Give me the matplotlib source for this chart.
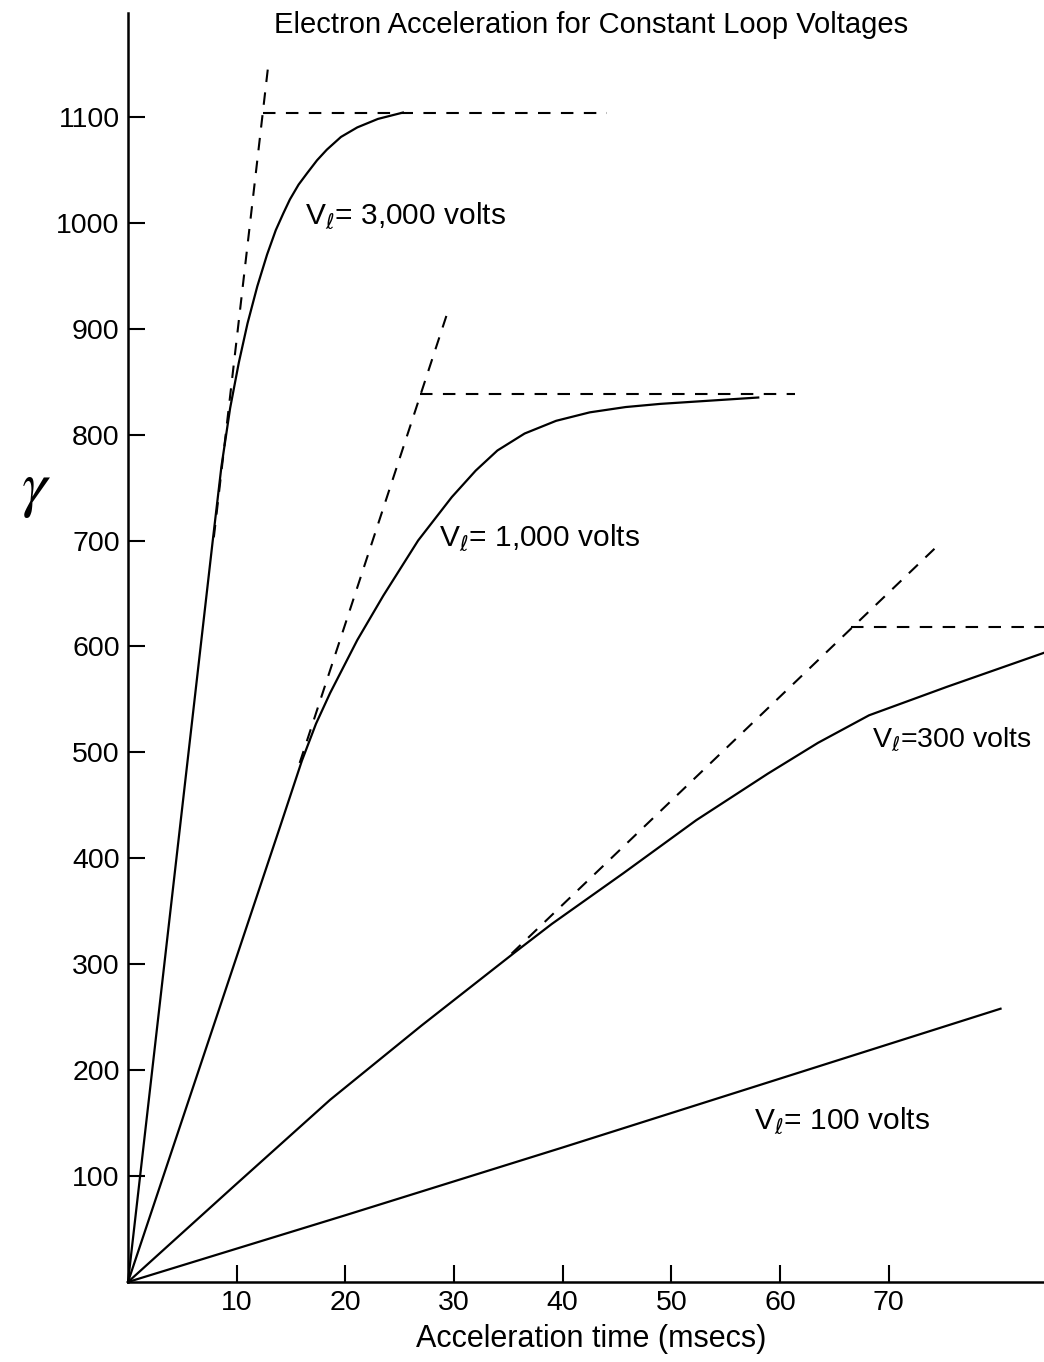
import matplotlib.pyplot as plt

plt.rcParams['font.family'] = ['Liberation Sans', 'DejaVu Sans']

# Vl = 3000 volts
t_3000 = [0, 7.8, 8.6, 9.4, 10.2, 11.0, 11.9, 12.8, 13.6, 14.3, 14.9, 15.7, 16.5,
          17.4, 18.3, 19.6, 21.1, 23.0, 25.3]
g_3000 = [0, 700, 770, 825, 868, 905, 940, 970, 993, 1009, 1022, 1036, 1047,
          1059, 1069, 1081, 1090, 1098, 1104]
tan_3000_t = [7.9, 12.9]
tan_3000_g = [703, 1148]
lim_3000_t = [12.4, 44.1]
lim_3000_g = [1104, 1104]

# Vl = 1000 volts
t_1000 = [0, 14, 16, 17.3, 18.6, 21.1, 23.5, 26.7, 29.8, 32, 34, 36.5, 39.4,
          42.5, 45.8, 49, 52, 55, 58]
g_1000 = [0, 430, 492, 527, 556, 606, 648, 700, 741, 766, 785, 801, 813,
          821, 826, 829, 831, 833, 835]
tan_1000_t = [15.8, 29.3]
tan_1000_g = [490, 912]
lim_1000_t = [26.9, 61.4]
lim_1000_g = [838, 838]

# Vl = 300 volts
t_300 = [0, 9.7, 18.6, 27, 35.7, 39, 45.6, 52.3, 58.9, 63.5, 68.2, 75.4, 84.3]
g_300 = [0, 90, 172, 242, 312, 338, 386, 436, 480, 509, 535, 562, 594]
tan_300_t = [35.3, 74.3]
tan_300_g = [310, 693]
lim_300_t = [66.5, 84.3]
lim_300_g = [618, 618]

# Vl = 100 volts
t_100 = [0, 20, 40, 60, 80.3]
g_100 = [0, 63, 127, 192, 258]

x_ticks = [10, 20, 30, 40, 50, 60, 70]
y_ticks = [100, 200, 300, 400, 500, 600, 700, 800, 900, 1000, 1100]

fig = plt.figure(figsize=(10.44, 13.62), dpi=100)
ax = fig.add_axes([128 / 1044, 80 / 1362, 1 - 128 / 1044, 1269 / 1362])

lw = 1.6
for t, g in [(t_3000, g_3000), (t_1000, g_1000), (t_300, g_300), (t_100, g_100)]:
    ax.plot(t, g, color='black', lw=lw, clip_on=False, solid_joinstyle='round')

dash = (0, (6, 5))
for t, g in [(tan_3000_t, tan_3000_g), (lim_3000_t, lim_3000_g),
             (tan_1000_t, tan_1000_g), (lim_1000_t, lim_1000_g),
             (tan_300_t, tan_300_g), (lim_300_t, lim_300_g)]:
    ax.plot(t, g, color='black', lw=1.5, linestyle=dash, clip_on=False)

# curve labels
lab_size = 21.5
ax.text(16.3, 1007, r'V$_\ell$= 3,000 volts', fontsize=lab_size, va='center')
ax.text(28.6, 703, r'V$_\ell$= 1,000 volts', fontsize=lab_size, va='center')
ax.text(68.5, 512, r'V$_\ell$=300 volts', fontsize=20.5, va='center')
ax.text(57.6, 152, r'V$_\ell$= 100 volts', fontsize=lab_size, va='center')

ax.set_xlim(0, 84.3)
ax.set_ylim(0, 1198)
ax.set_xticks(x_ticks)
ax.set_yticks(y_ticks)
ax.tick_params(direction='in', length=12, width=1.5, labelsize=20.5, pad=6)
ax.spines['top'].set_visible(False)
ax.spines['right'].set_visible(False)
ax.spines['left'].set_linewidth(1.8)
ax.spines['bottom'].set_linewidth(1.8)

fig.text(0.566, 0.982, 'Electron Acceleration for Constant Loop Voltages',
         fontsize=21, ha='center', va='center')
fig.text(0.566, 0.017, 'Acceleration time (msecs)', fontsize=22,
         ha='center', va='center')
fig.text(0.034, 0.64, r'$\gamma$', fontsize=46, ha='center', va='center',
         math_fontfamily='stix')

fig.savefig('out.png', dpi=100)
